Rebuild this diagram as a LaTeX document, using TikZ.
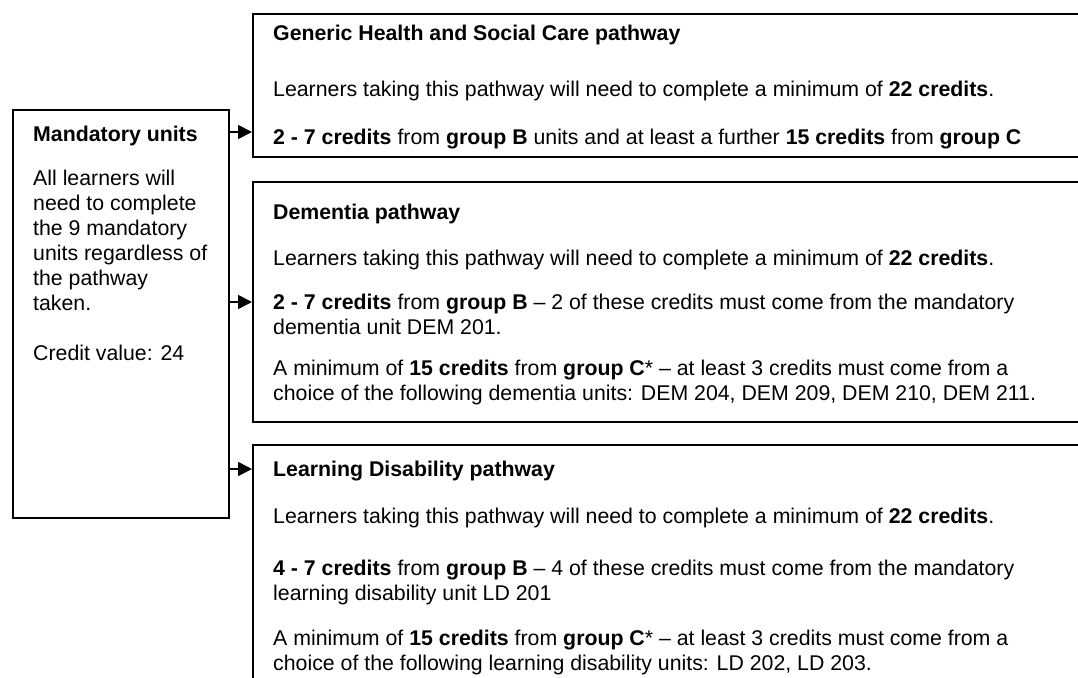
\documentclass[tikz,border=0pt]{standalone}
\usepackage{fontspec}
\setmainfont{Liberation Sans}
\usetikzlibrary{arrows.meta}
\begin{document}
\begin{tikzpicture}[x=1pt,y=-1pt,
  txt/.style={anchor=base west,inner sep=0pt,font=\fontsize{21.3}{25}\selectfont},
  frame/.style={draw,line width=1.6pt,rectangle,anchor=north west,inner sep=0pt},
  link/.style={line width=1.6pt,-{Triangle[length=14pt,width=14pt]}}]
\useasboundingbox (0,0) rectangle (1078,677);
\clip (0,0) rectangle (1078,677);
% boxes
\node[frame,minimum width=216pt,minimum height=408pt] (mand) at (12,109) {};
\node[frame,minimum width=900pt,minimum height=143pt] (gen) at (252,13) {};
\node[frame,minimum width=900pt,minimum height=240pt] (dem) at (252,181) {};
\node[frame,minimum width=900pt,minimum height=300pt] (ld) at (252,444) {};
% connectors
\draw[link] (mand.east |- 0,132) -- (gen.west |- 0,132);
\draw[link] (mand.east |- 0,302) -- (dem.west |- 0,302);
\draw[link] (mand.east |- 0,469) -- (ld.west |- 0,469);
% mandatory text
\node[txt] (m1) at (33,141) {\textbf{Mandatory units}};
\node[txt] (m2) at (33,185) {All learners will};
\node[txt] (m3) at (33,210) {need to complete};
\node[txt] (m4) at (33,235) {the 9 mandatory};
\node[txt] (m5) at (33,260) {units regardless of};
\node[txt] (m6) at (33,285) {the pathway};
\node[txt] (m7) at (33,310) {taken.};
\node[txt] (m8) at (33,360) {Credit value: 24};
% generic
\node[txt] (g1) at (273,41) {\textbf{Generic Health and Social Care pathway}};
\node[txt] (g2) at (273,96) {Learners taking this pathway will need to complete a minimum of \textbf{22 credits}.};
\node[txt] (g3) at (273,144) {\textbf{2 - 7 credits} from \textbf{group B} units and at least a further \textbf{15 credits} from \textbf{group C}};
% dementia
\node[txt] (d1) at (273,219) {\textbf{Dementia pathway}};
\node[txt] (d2) at (273,265) {Learners taking this pathway will need to complete a minimum of \textbf{22 credits}.};
\node[txt] (d3) at (273,309) {\textbf{2 - 7 credits} from \textbf{group B} -- 2 of these credits must come from the mandatory};
\node[txt] (d4) at (273,334) {dementia unit DEM 201.};
\node[txt] (d5) at (273,375) {A minimum of \textbf{15 credits} from \textbf{group C}* -- at least 3 credits must come from a};
\node[txt] (d6) at (273,400) {choice of the following dementia units: DEM 204, DEM 209, DEM 210, DEM 211.};
% learning disability
\node[txt] (l1) at (273,476) {\textbf{Learning Disability pathway}};
\node[txt] (l2) at (273,523) {Learners taking this pathway will need to complete a minimum of \textbf{22 credits}.};
\node[txt] (l3) at (273,575) {\textbf{4 - 7 credits} from \textbf{group B} -- 4 of these credits must come from the mandatory};
\node[txt] (l4) at (273,600) {learning disability unit LD 201};
\node[txt] (l5) at (273,645) {A minimum of \textbf{15 credits} from \textbf{group C}* -- at least 3 credits must come from a};
\node[txt] (l6) at (273,670) {choice of the following learning disability units: LD 202, LD 203.};
\end{tikzpicture}
\end{document}
